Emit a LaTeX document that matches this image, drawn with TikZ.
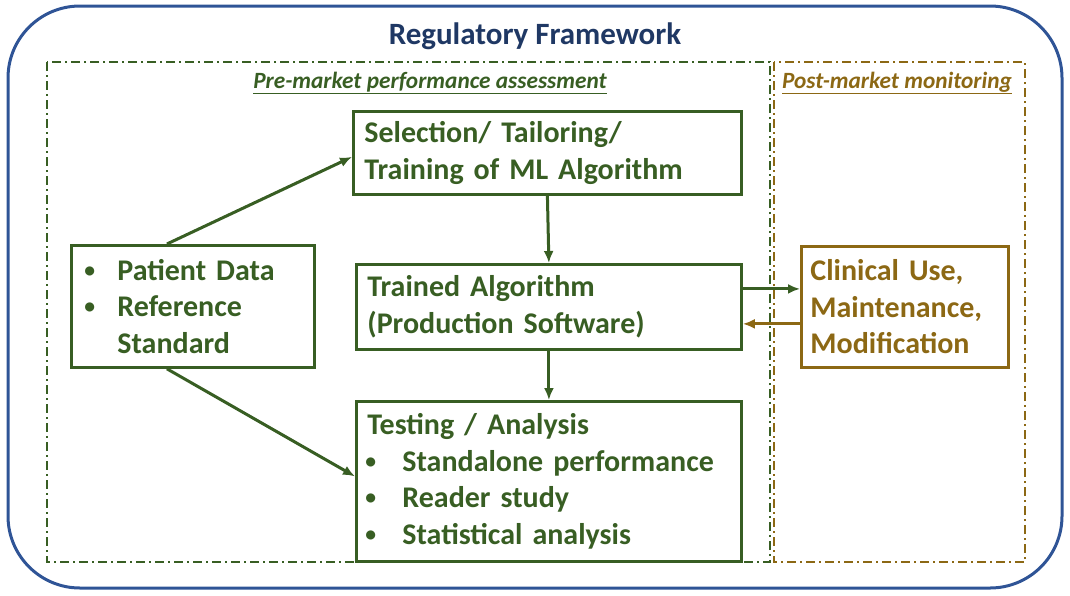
\documentclass[tikz,border=0pt]{standalone}
\usepackage{fontspec}
\setmainfont{Carlito}
\usetikzlibrary{arrows.meta}
\definecolor{frameblue}{RGB}{47,84,150}
\definecolor{titleblue}{RGB}{31,56,100}
\definecolor{mlgreen}{RGB}{56,94,35}
\definecolor{postgold}{RGB}{140,104,20}
\newcommand{\bul}[1][29pt]{\makebox[#1][l]{\hspace*{-4pt}\raisebox{3pt}{\scalebox{0.72}{\textbullet}}}}

\begin{document}
\begin{tikzpicture}[x=1pt,y=-1pt,
  box/.style={draw=mlgreen,line width=2.8pt,text=mlgreen,anchor=north west,align=left,inner xsep=11pt,inner ysep=0pt,font=\fontsize{30}{36.5}\selectfont\bfseries},
  zone/.style={line width=2pt,dash pattern=on 9pt off 4pt on 2pt off 4pt},
  tag/.style={font=\fontsize{23.3}{26}\selectfont\bfseries\itshape},
  arr/.style={line width=3pt,-{Latex[length=12pt,width=10pt]}}]
\useasboundingbox (0,0) rectangle (1070,595);
\draw[frameblue,line width=3pt,rounded corners=72pt] (8,6) rectangle (1062,588);
\node[text=titleblue,font=\fontsize{31}{34}\selectfont\bfseries] (title) at (535,36) {Regulatory Framework};
\draw[zone,mlgreen] (47,62) rectangle (770,562);
\draw[zone,postgold] (774,62) rectangle (1025,562);
\node[tag,text=mlgreen] (pre) at (430,83) {\underline{Pre-market performance assessment}};
\node[tag,text=postgold] (post) at (897,83) {\underline{Post-market monitoring}};
% boxes
\node[box,minimum width=243pt,minimum height=122pt,text width=209pt,inner xsep=17pt] (data) at (70,244) {\bul Patient Data\\\bul Reference\\\hspace*{29pt}Standard};
\node[box,minimum width=388pt,minimum height=83pt,text width=366pt] (sel) at (352,110) {Selection/ Tailoring/\\Training of ML Algorithm};
\node[box,minimum width=385pt,minimum height=85pt,text width=363pt] (trained) at (355,263) {Trained Algorithm\\(Production Software)};
\node[box,minimum width=385pt,minimum height=160pt,text width=363pt] (test) at (355,400) {Testing / Analysis\\\hspace*{2pt}\bul[33pt]Standalone performance\\\hspace*{2pt}\bul[33pt]Reader study\\\hspace*{2pt}\bul[33pt]Statistical analysis};
\node[box,draw=postgold,text=postgold,minimum width=203pt,minimum height=121pt,text width=189pt,inner xsep=9pt] (clin) at (800,245) {Clinical Use,\\Maintenance,\\Modification};
% arrows
\draw[arr,mlgreen] ([xshift=-26pt]data.north) -- ([yshift=-4pt]sel.west);
\draw[arr,mlgreen] ([xshift=-26pt]data.south) -- ([yshift=5pt]test.west);
\draw[arr,mlgreen] (sel.south) -- (trained.north);
\draw[arr,mlgreen] (trained.south) -- (test.north);
\draw[arr,mlgreen] ([yshift=18pt]trained.east) -- ([yshift=18pt]clin.west);
\draw[arr,postgold] ([yshift=-17pt]clin.west) -- ([yshift=-17pt]trained.east);
\end{tikzpicture}
\end{document}
